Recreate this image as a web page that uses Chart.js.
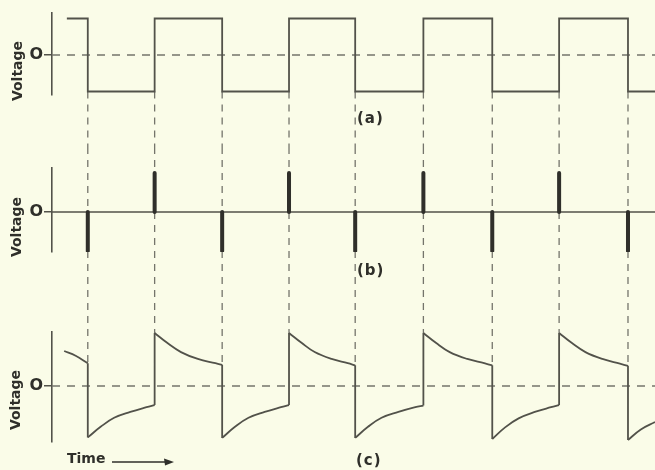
<!DOCTYPE html>
<html>
<head>
<meta charset="utf-8">
<script src="https://cdn.jsdelivr.net/npm/chart.js@4"></script>
<style>
  html, body { margin: 0; padding: 0; background: #fafce8; }
  #wrap { position: relative; width: 655px; height: 470px; overflow: hidden; background: #fafce8; }
  #wrap canvas { position: absolute; left: 0; }
</style>
</head>
<body>
<div id="wrap">
  <canvas id="ca" width="655" height="150" style="top:0px"></canvas>
  <canvas id="cb" width="655" height="150" style="top:150px"></canvas>
  <canvas id="cc" width="655" height="170" style="top:300px"></canvas>
</div>
<script>
// ---------------- data (time in half-periods, voltage in relative units) ----------------
const timeRange    = [0, 8.93];
const edgeTimes    = [0.53, 1.52, 2.52, 3.51, 4.49, 5.50, 6.52, 7.51, 8.53];
// (a) square wave
const squareStart  = 0.22;
const squareLevels = [1, -1, 1, -1, 1, -1, 1, -1, 1, -1];
// (b) differentiated spikes, one per edge
const spikeValues  = [-1, 1, -1, 1, -1, 1, -1, 1, -1];
// (c) RC-coupled waveform
const rcTimes  = [0.18, 0.35, 0.53,
                  0.53, 0.72, 0.92, 1.16, 1.40, 1.52,
                  1.52, 1.71, 1.91, 2.16, 2.42, 2.52,
                  2.52, 2.71, 2.91, 3.15, 3.39, 3.51,
                  3.51, 3.70, 3.89, 4.14, 4.38, 4.49,
                  4.49, 4.68, 4.88, 5.13, 5.38, 5.50,
                  5.50, 5.69, 5.89, 6.15, 6.40, 6.52,
                  6.52, 6.71, 6.91, 7.15, 7.39, 7.51,
                  7.51, 7.70, 7.90, 8.15, 8.41, 8.53,
                  8.53, 8.72, 8.93];
const rcValues = [0.66, 0.57, 0.43,
                  -0.97, -0.77, -0.60, -0.49, -0.40, -0.36,
                  1.00, 0.81, 0.64, 0.51, 0.43, 0.40,
                  -0.98, -0.77, -0.60, -0.49, -0.40, -0.36,
                  1.00, 0.81, 0.64, 0.51, 0.43, 0.39,
                  -0.98, -0.77, -0.60, -0.49, -0.40, -0.37,
                  1.00, 0.81, 0.64, 0.51, 0.43, 0.39,
                  -1.00, -0.78, -0.61, -0.49, -0.40, -0.36,
                  1.00, 0.81, 0.64, 0.51, 0.42, 0.38,
                  -1.02, -0.82, -0.68];
// text
const zeroTicks    = [0];
const tickLabels   = ['O'];
const axisTitle    = 'Voltage';
const panelLabels  = ['(a)', '(b)', '(c)'];
const timeLabel    = 'Time';

// ---------------- styles ----------------
const BG = '#fafce8';
const INK = '#52524a';
const DARK = '#2f2f2a';
const DASH = '#74746b';
const REACH = 5; // connector lines run past the panel edge

function yScale(min, max) {
  return {
    type: 'linear', min: min, max: max,
    afterFit: s => { s.width = 52; },
    afterBuildTicks: s => { s.ticks = zeroTicks.map(v => ({ value: v })); },
    ticks: {
      callback: (v, i) => tickLabels[i] || '',
      font: { family: 'DejaVu Sans', size: 16, weight: 'bold' },
      color: DARK, padding: 1
    },
    grid: { display: true, drawOnChartArea: false, drawTicks: true, tickLength: 8, color: INK, lineWidth: 1.5 },
    border: { display: true, color: INK, width: 1.6 }
  };
}
const xScale = { type: 'linear', min: timeRange[0], max: timeRange[1], display: false };

function notes(items, arrow) {
  return {
    id: 'notes',
    afterDraw(chart) {
      const ctx = chart.ctx;
      items.forEach(it => {
        ctx.save();
        ctx.fillStyle = DARK;
        ctx.font = it.font;
        ctx.translate(it.x, it.y);
        if (it.rot) ctx.rotate(it.rot);
        ctx.textAlign = it.align || 'left';
        ctx.textBaseline = 'middle';
        if (it.spacing) ctx.letterSpacing = it.spacing;
        ctx.fillText(it.text, 0, 0);
        ctx.restore();
      });
      if (arrow) {
        ctx.save();
        ctx.strokeStyle = DARK; ctx.fillStyle = DARK; ctx.lineWidth = 1.5;
        ctx.beginPath(); ctx.moveTo(arrow.x0, arrow.y); ctx.lineTo(arrow.x1 - 6, arrow.y); ctx.stroke();
        ctx.beginPath();
        ctx.moveTo(arrow.x1, arrow.y);
        ctx.lineTo(arrow.x1 - 10, arrow.y - 3.5);
        ctx.lineTo(arrow.x1 - 9, arrow.y + 3.5);
        ctx.closePath(); ctx.fill();
        ctx.restore();
      }
    }
  };
}

function baseOptions(pad, ymin, ymax) {
  return {
    responsive: false, animation: false, devicePixelRatio: 1,
    layout: { padding: { top: pad[0], bottom: pad[1], left: 0, right: 0 } },
    plugins: { legend: { display: false }, tooltip: { enabled: false } },
    elements: { point: { radius: 0, hoverRadius: 0 }, line: { tension: 0 } },
    scales: { x: xScale, y: yScale(ymin, ymax) }
  };
}

const bgPlugin = {
  id: 'bg',
  beforeDraw(chart) {
    const c = chart.ctx; c.save(); c.fillStyle = BG; c.fillRect(0, 0, chart.width, chart.height); c.restore();
  }
};

const titleFont = 'bold 14px "DejaVu Sans"';
const labelFont = 'bold 15px "DejaVu Sans"';

// ---------------- panel (a) ----------------
const squarePts = [{ x: squareStart, y: squareLevels[0] }];
edgeTimes.forEach((t, i) => {
  squarePts.push({ x: t, y: squareLevels[i] }, { x: t, y: squareLevels[i + 1] });
});
squarePts.push({ x: timeRange[1], y: squareLevels[squareLevels.length - 1] });

const connA = [];
edgeTimes.forEach((t, i) => {
  connA.push({ x: t, y: Math.min(squareLevels[i], squareLevels[i + 1]) }, { x: t, y: -REACH }, { x: t, y: null });
});

new Chart(document.getElementById('ca'), {
  type: 'line',
  data: { datasets: [
    { data: squarePts, borderColor: INK, borderWidth: 1.8 },
    { data: [{ x: timeRange[0], y: 0 }, { x: timeRange[1], y: 0 }], borderColor: DASH, borderWidth: 1.5, borderDash: [8, 7] },
    { data: connA, borderColor: DASH, borderWidth: 1.3, borderDash: [7, 6], clip: false, spanGaps: false }
  ] },
  options: baseOptions([13, 55], -40 / 36.5, 42 / 36.5),
  plugins: [bgPlugin, notes([
    { text: axisTitle, x: 18, y: 71, rot: -Math.PI / 2, align: 'center', font: titleFont },
    { text: panelLabels[0], x: 357, y: 119, font: labelFont, spacing: '1px' }
  ])]
});

// ---------------- panel (b) ----------------
const spikePts = [];
edgeTimes.forEach((t, i) => {
  spikePts.push({ x: t, y: 0 }, { x: t, y: spikeValues[i] }, { x: t, y: null });
});
const connB = [];
edgeTimes.forEach(t => {
  connB.push({ x: t, y: REACH }, { x: t, y: -REACH }, { x: t, y: null });
});

new Chart(document.getElementById('cb'), {
  type: 'line',
  data: { datasets: [
    { data: spikePts, borderColor: DARK, borderWidth: 4, borderCapStyle: 'round', spanGaps: false },
    { data: [{ x: timeRange[0], y: 0 }, { x: timeRange[1], y: 0 }], borderColor: INK, borderWidth: 1.7 },
    { data: connB, borderColor: DASH, borderWidth: 1.3, borderDash: [7, 6], clip: false, spanGaps: false }
  ] },
  options: baseOptions([18, 48], -40 / 39, 44 / 39),
  plugins: [bgPlugin, notes([
    { text: axisTitle, x: 17, y: 77, rot: -Math.PI / 2, align: 'center', font: titleFont },
    { text: panelLabels[1], x: 357, y: 121, font: labelFont, spacing: '1px' }
  ])]
});

// ---------------- panel (c) ----------------
const curveSets = [];
const edgePts = [];
let piece = [];
rcTimes.forEach((t, i) => {
  if (i > 0 && t === rcTimes[i - 1]) {
    curveSets.push(piece);
    edgePts.push({ x: t, y: rcValues[i - 1] }, { x: t, y: rcValues[i] }, { x: t, y: null });
    piece = [];
  }
  piece.push({ x: t, y: rcValues[i] });
});
curveSets.push(piece);

const connC = [];
edgeTimes.forEach(t => {
  const vals = rcTimes.map((tt, i) => tt === t ? rcValues[i] : -Infinity);
  connC.push({ x: t, y: REACH }, { x: t, y: Math.max(...vals) }, { x: t, y: null });
});

const cDatasets = curveSets.map(p => ({ data: p, borderColor: INK, borderWidth: 1.8, tension: 0.4 }));
cDatasets.push(
  { data: edgePts, borderColor: INK, borderWidth: 1.8, spanGaps: false },
  { data: [{ x: timeRange[0], y: 0 }, { x: timeRange[1], y: 0 }], borderColor: DASH, borderWidth: 1.5, borderDash: [8, 7] },
  { data: connC, borderColor: DASH, borderWidth: 1.3, borderDash: [7, 6], clip: false, spanGaps: false }
);

new Chart(document.getElementById('cc'), {
  type: 'line',
  data: { datasets: cDatasets },
  options: baseOptions([32, 28], -56 / 53, 54 / 53),
  plugins: [bgPlugin, notes([
    { text: axisTitle, x: 16, y: 100, rot: -Math.PI / 2, align: 'center', font: titleFont },
    { text: panelLabels[2], x: 356, y: 161, font: labelFont, spacing: '1px' },
    { text: timeLabel, x: 67, y: 159, font: titleFont }
  ], { x0: 112, x1: 174, y: 162 })]
});
</script>
</body>
</html>
